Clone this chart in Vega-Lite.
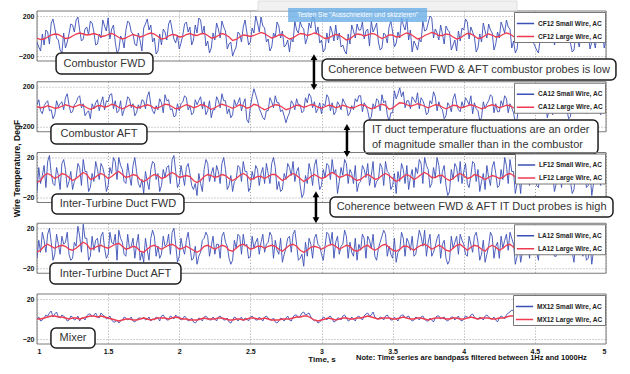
{
"$schema":"https://vega.github.io/schema/vega-lite/v6.json",
"autosize":{"type":"pad"},
"padding":{"left":11,"top":0,"right":0,"bottom":0},
"background":"white",
"datasets":{"ts":[
{"t":1,"b1":-60,"r1":-20,"b2":20,"r2":0,"b3":-14,"r3":-5,"b4":-10,"r4":-4,"b5":0,"r5":0},
{"t":1.025,"b1":-150,"r1":-35,"b2":-40,"r2":-10,"b3":-6,"r3":-3,"b4":-4,"r4":-2,"b5":-2,"r5":0},
{"t":1.05,"b1":-90,"r1":-30,"b2":10,"r2":-5,"b3":12,"r3":2,"b4":8,"r4":2,"b5":1,"r5":1},
{"t":1.075,"b1":40,"r1":-10,"b2":60,"r2":10,"b3":16,"r3":4,"b4":14,"r4":4,"b5":3,"r5":2},
{"t":1.1,"b1":130,"r1":10,"b2":-30,"r2":0,"b3":4,"r3":2,"b4":6,"r4":2,"b5":8,"r5":3},
{"t":1.125,"b1":80,"r1":20,"b2":-80,"r2":-15,"b3":-8,"r3":-1,"b4":-6,"r4":0,"b5":5,"r5":3},
{"t":1.15,"b1":-40,"r1":15,"b2":0,"r2":-10,"b3":2,"r3":1,"b4":4,"r4":2,"b5":2,"r5":2},
{"t":1.175,"b1":-170,"r1":-5,"b2":50,"r2":5,"b3":14,"r3":4,"b4":12,"r4":3,"b5":4,"r5":2},
{"t":1.2,"b1":-120,"r1":-25,"b2":90,"r2":20,"b3":8,"r3":3,"b4":6,"r4":2,"b5":1,"r5":1},
{"t":1.225,"b1":20,"r1":-20,"b2":20,"r2":10,"b3":-4,"r3":0,"b4":-6,"r4":-1,"b5":-1,"r5":0},
{"t":1.25,"b1":110,"r1":0,"b2":-50,"r2":-5,"b3":-12,"r3":-3,"b4":-10,"r4":-2,"b5":2,"r5":1},
{"t":1.275,"b1":160,"r1":20,"b2":40,"r2":5,"b3":0,"r3":-1,"b4":2,"r4":0,"b5":0,"r5":1},
{"t":1.3,"b1":60,"r1":30,"b2":110,"r2":20,"b3":10,"r3":2,"b4":12,"r4":3,"b5":-2,"r5":0},
{"t":1.325,"b1":-30,"r1":20,"b2":30,"r2":15,"b3":18,"r3":5,"b4":24,"r4":6,"b5":1,"r5":1},
{"t":1.35,"b1":90,"r1":10,"b2":-60,"r2":-10,"b3":6,"r3":3,"b4":10,"r4":4,"b5":3,"r5":2},
{"t":1.375,"b1":150,"r1":15,"b2":-120,"r2":-25,"b3":-10,"r3":-2,"b4":-8,"r4":-1,"b5":5,"r5":3},
{"t":1.4,"b1":40,"r1":25,"b2":-20,"r2":-15,"b3":-4,"r3":-1,"b4":-2,"r4":0,"b5":4,"r5":3},
{"t":1.425,"b1":-80,"r1":15,"b2":70,"r2":10,"b3":8,"r3":2,"b4":10,"r4":2,"b5":2,"r5":2},
{"t":1.45,"b1":-20,"r1":-5,"b2":40,"r2":10,"b3":14,"r3":4,"b4":12,"r4":3,"b5":6,"r5":3},
{"t":1.475,"b1":100,"r1":0,"b2":-30,"r2":-5,"b3":2,"r3":2,"b4":0,"r4":1,"b5":3,"r5":2},
{"t":1.5,"b1":180,"r1":15,"b2":50,"r2":5,"b3":-8,"r3":-1,"b4":-6,"r4":0,"b5":1,"r5":1},
{"t":1.525,"b1":70,"r1":25,"b2":130,"r2":25,"b3":4,"r3":1,"b4":6,"r4":2,"b5":-1,"r5":0},
{"t":1.55,"b1":-60,"r1":10,"b2":60,"r2":15,"b3":16,"r3":4,"b4":14,"r4":4,"b5":-3,"r5":-1},
{"t":1.575,"b1":-140,"r1":-15,"b2":-40,"r2":-5,"b3":20,"r3":6,"b4":18,"r4":5,"b5":-4,"r5":-2},
{"t":1.6,"b1":-30,"r1":-30,"b2":-90,"r2":-20,"b3":8,"r3":3,"b4":6,"r4":2,"b5":-1,"r5":-1},
{"t":1.625,"b1":60,"r1":-20,"b2":10,"r2":-5,"b3":-6,"r3":0,"b4":-8,"r4":-1,"b5":1,"r5":0},
{"t":1.65,"b1":130,"r1":0,"b2":80,"r2":15,"b3":2,"r3":1,"b4":0,"r4":0,"b5":0,"r5":0},
{"t":1.675,"b1":20,"r1":15,"b2":30,"r2":10,"b3":12,"r3":3,"b4":10,"r4":2,"b5":-2,"r5":-1},
{"t":1.7,"b1":-100,"r1":5,"b2":-60,"r2":-10,"b3":6,"r3":2,"b4":4,"r4":1,"b5":-1,"r5":-1},
{"t":1.725,"b1":-50,"r1":-10,"b2":-20,"r2":-5,"b3":-10,"r3":-2,"b4":-12,"r4":-3,"b5":1,"r5":0},
{"t":1.75,"b1":80,"r1":0,"b2":60,"r2":10,"b3":-16,"r3":-4,"b4":-14,"r4":-4,"b5":2,"r5":1},
{"t":1.775,"b1":170,"r1":20,"b2":100,"r2":20,"b3":-4,"r3":-2,"b4":-2,"r4":-1,"b5":0,"r5":0},
{"t":1.8,"b1":110,"r1":30,"b2":20,"r2":10,"b3":8,"r3":1,"b4":10,"r4":2,"b5":-2,"r5":-1},
{"t":1.825,"b1":-20,"r1":20,"b2":-70,"r2":-15,"b3":14,"r3":3,"b4":12,"r4":3,"b5":-1,"r5":0},
{"t":1.85,"b1":-150,"r1":-5,"b2":-30,"r2":-10,"b3":4,"r3":2,"b4":2,"r4":1,"b5":1,"r5":1},
{"t":1.875,"b1":-90,"r1":-30,"b2":40,"r2":5,"b3":-8,"r3":-1,"b4":-6,"r4":-1,"b5":3,"r5":1},
{"t":1.9,"b1":40,"r1":-25,"b2":120,"r2":25,"b3":0,"r3":0,"b4":2,"r4":1,"b5":1,"r5":1},
{"t":1.925,"b1":120,"r1":0,"b2":70,"r2":20,"b3":12,"r3":3,"b4":14,"r4":3,"b5":-1,"r5":0},
{"t":1.95,"b1":60,"r1":15,"b2":-20,"r2":0,"b3":18,"r3":5,"b4":16,"r4":4,"b5":2,"r5":1},
{"t":1.975,"b1":-70,"r1":10,"b2":-90,"r2":-20,"b3":6,"r3":3,"b4":4,"r4":2,"b5":4,"r5":2},
{"t":2,"b1":-130,"r1":-10,"b2":-40,"r2":-15,"b3":-6,"r3":0,"b4":-8,"r4":-1,"b5":2,"r5":1},
{"t":2.025,"b1":10,"r1":-5,"b2":50,"r2":5,"b3":2,"r3":1,"b4":0,"r4":0,"b5":0,"r5":0},
{"t":2.05,"b1":140,"r1":15,"b2":90,"r2":20,"b3":10,"r3":2,"b4":8,"r4":2,"b5":1,"r5":0},
{"t":2.075,"b1":90,"r1":25,"b2":10,"r2":10,"b3":4,"r3":1,"b4":2,"r4":0,"b5":-1,"r5":-1},
{"t":2.1,"b1":-40,"r1":10,"b2":-60,"r2":-10,"b3":-12,"r3":-3,"b4":-10,"r4":-2,"b5":-3,"r5":-1},
{"t":2.125,"b1":30,"r1":5,"b2":20,"r2":0,"b3":-18,"r3":-5,"b4":-16,"r4":-4,"b5":-2,"r5":-1},
{"t":2.15,"b1":160,"r1":20,"b2":100,"r2":20,"b3":-6,"r3":-3,"b4":-4,"r4":-2,"b5":0,"r5":0},
{"t":2.175,"b1":100,"r1":25,"b2":50,"r2":15,"b3":8,"r3":1,"b4":10,"r4":2,"b5":2,"r5":1},
{"t":2.2,"b1":-50,"r1":5,"b2":-40,"r2":-5,"b3":14,"r3":3,"b4":12,"r4":3,"b5":1,"r5":0},
{"t":2.225,"b1":-120,"r1":-20,"b2":-110,"r2":-25,"b3":4,"r3":2,"b4":2,"r4":1,"b5":-1,"r5":0},
{"t":2.25,"b1":-40,"r1":-15,"b2":-30,"r2":-10,"b3":-4,"r3":0,"b4":-6,"r4":-1,"b5":0,"r5":0},
{"t":2.275,"b1":70,"r1":5,"b2":60,"r2":10,"b3":6,"r3":1,"b4":4,"r4":1,"b5":2,"r5":1},
{"t":2.3,"b1":150,"r1":25,"b2":130,"r2":25,"b3":14,"r3":3,"b4":12,"r4":3,"b5":1,"r5":1},
{"t":2.325,"b1":50,"r1":15,"b2":60,"r2":15,"b3":8,"r3":2,"b4":6,"r4":2,"b5":-1,"r5":0},
{"t":2.35,"b1":-80,"r1":-10,"b2":-20,"r2":0,"b3":-8,"r3":-1,"b4":-10,"r4":-2,"b5":-3,"r5":-1},
{"t":2.375,"b1":-200,"r1":-45,"b2":-80,"r2":-15,"b3":-14,"r3":-3,"b4":-12,"r4":-3,"b5":-1,"r5":-1},
{"t":2.4,"b1":-110,"r1":-35,"b2":10,"r2":0,"b3":-2,"r3":-1,"b4":0,"r4":0,"b5":1,"r5":0},
{"t":2.425,"b1":20,"r1":-10,"b2":90,"r2":20,"b3":10,"r3":2,"b4":12,"r4":3,"b5":0,"r5":0},
{"t":2.45,"b1":90,"r1":10,"b2":30,"r2":10,"b3":16,"r3":4,"b4":14,"r4":4,"b5":-2,"r5":-1},
{"t":2.475,"b1":40,"r1":5,"b2":-130,"r2":-15,"b3":6,"r3":2,"b4":4,"r4":2,"b5":0,"r5":0},
{"t":2.5,"b1":-60,"r1":-5,"b2":0,"r2":-5,"b3":-10,"r3":-2,"b4":-8,"r4":-1,"b5":2,"r5":1},
{"t":2.525,"b1":30,"r1":5,"b2":180,"r2":25,"b3":-2,"r3":-1,"b4":0,"r4":0,"b5":1,"r5":1},
{"t":2.55,"b1":130,"r1":20,"b2":60,"r2":15,"b3":8,"r3":1,"b4":10,"r4":2,"b5":-1,"r5":0},
{"t":2.575,"b1":190,"r1":35,"b2":-60,"r2":-10,"b3":4,"r3":1,"b4":6,"r4":2,"b5":0,"r5":0},
{"t":2.6,"b1":80,"r1":25,"b2":-130,"r2":-30,"b3":-6,"r3":-1,"b4":-4,"r4":0,"b5":2,"r5":1},
{"t":2.625,"b1":-30,"r1":0,"b2":-40,"r2":-15,"b3":4,"r3":1,"b4":6,"r4":2,"b5":1,"r5":0},
{"t":2.65,"b1":-110,"r1":-20,"b2":50,"r2":5,"b3":14,"r3":3,"b4":12,"r4":3,"b5":-1,"r5":-1},
{"t":2.675,"b1":-10,"r1":-10,"b2":110,"r2":20,"b3":10,"r3":3,"b4":8,"r4":2,"b5":-3,"r5":-1},
{"t":2.7,"b1":100,"r1":10,"b2":40,"r2":15,"b3":-4,"r3":0,"b4":-6,"r4":-1,"b5":-2,"r5":-1},
{"t":2.725,"b1":50,"r1":15,"b2":-30,"r2":-5,"b3":-12,"r3":-3,"b4":-14,"r4":-3,"b5":0,"r5":0},
{"t":2.75,"b1":-90,"r1":-10,"b2":-160,"r2":-30,"b3":-2,"r3":-1,"b4":0,"r4":0,"b5":1,"r5":0},
{"t":2.775,"b1":-160,"r1":-30,"b2":-60,"r2":-20,"b3":10,"r3":2,"b4":12,"r4":3,"b5":-1,"r5":0},
{"t":2.8,"b1":-60,"r1":-20,"b2":30,"r2":0,"b3":16,"r3":4,"b4":14,"r4":4,"b5":2,"r5":1},
{"t":2.825,"b1":60,"r1":5,"b2":80,"r2":15,"b3":6,"r3":2,"b4":4,"r4":2,"b5":4,"r5":2},
{"t":2.85,"b1":140,"r1":25,"b2":20,"r2":10,"b3":-8,"r3":-1,"b4":-10,"r4":-2,"b5":3,"r5":2},
{"t":2.875,"b1":70,"r1":20,"b2":-40,"r2":-5,"b3":-16,"r3":-4,"b4":-18,"r4":-4,"b5":7,"r5":3},
{"t":2.9,"b1":-20,"r1":5,"b2":40,"r2":5,"b3":-6,"r3":-2,"b4":-8,"r4":-2,"b5":5,"r5":3},
{"t":2.925,"b1":80,"r1":15,"b2":100,"r2":20,"b3":6,"r3":1,"b4":4,"r4":1,"b5":2,"r5":1},
{"t":2.95,"b1":170,"r1":30,"b2":50,"r2":15,"b3":12,"r3":3,"b4":10,"r4":2,"b5":-2,"r5":-1},
{"t":2.975,"b1":90,"r1":20,"b2":-20,"r2":-5,"b3":2,"r3":1,"b4":4,"r4":1,"b5":-4,"r5":-2},
{"t":3,"b1":-40,"r1":-5,"b2":-70,"r2":-15,"b3":-8,"r3":-1,"b4":-6,"r4":-1,"b5":-1,"r5":-1},
{"t":3.025,"b1":-130,"r1":-25,"b2":10,"r2":0,"b3":0,"r3":0,"b4":2,"r4":1,"b5":1,"r5":0},
{"t":3.05,"b1":-70,"r1":-20,"b2":90,"r2":15,"b3":12,"r3":3,"b4":14,"r4":3,"b5":2,"r5":1},
{"t":3.075,"b1":40,"r1":0,"b2":40,"r2":10,"b3":18,"r3":5,"b4":16,"r4":4,"b5":0,"r5":0},
{"t":3.1,"b1":110,"r1":15,"b2":-50,"r2":-10,"b3":8,"r3":3,"b4":6,"r4":2,"b5":-2,"r5":-1},
{"t":3.125,"b1":30,"r1":10,"b2":20,"r2":0,"b3":-4,"r3":0,"b4":-6,"r4":-1,"b5":1,"r5":0},
{"t":3.15,"b1":-90,"r1":-15,"b2":80,"r2":15,"b3":2,"r3":1,"b4":4,"r4":1,"b5":3,"r5":1},
{"t":3.175,"b1":-180,"r1":-40,"b2":10,"r2":5,"b3":14,"r3":3,"b4":12,"r4":3,"b5":1,"r5":1},
{"t":3.2,"b1":-80,"r1":-30,"b2":-60,"r2":-10,"b3":8,"r3":2,"b4":6,"r4":2,"b5":-1,"r5":0},
{"t":3.225,"b1":50,"r1":0,"b2":-30,"r2":-10,"b3":-6,"r3":-1,"b4":-8,"r4":-2,"b5":0,"r5":0},
{"t":3.25,"b1":120,"r1":20,"b2":50,"r2":5,"b3":-14,"r3":-3,"b4":-12,"r4":-3,"b5":2,"r5":1},
{"t":3.275,"b1":60,"r1":15,"b2":110,"r2":20,"b3":-4,"r3":-2,"b4":-2,"r4":-1,"b5":1,"r5":1},
{"t":3.3,"b1":-30,"r1":0,"b2":40,"r2":15,"b3":8,"r3":1,"b4":10,"r4":2,"b5":3,"r5":2},
{"t":3.325,"b1":70,"r1":10,"b2":-40,"r2":-5,"b3":14,"r3":3,"b4":12,"r4":3,"b5":6,"r5":3},
{"t":3.35,"b1":150,"r1":25,"b2":-100,"r2":-20,"b3":2,"r3":1,"b4":0,"r4":0,"b5":4,"r5":2},
{"t":3.375,"b1":80,"r1":20,"b2":-20,"r2":-10,"b3":-10,"r3":-2,"b4":-8,"r4":-2,"b5":2,"r5":1},
{"t":3.4,"b1":-60,"r1":-5,"b2":60,"r2":10,"b3":-2,"r3":-1,"b4":0,"r4":0,"b5":0,"r5":0},
{"t":3.425,"b1":-120,"r1":-25,"b2":120,"r2":25,"b3":10,"r3":2,"b4":12,"r4":3,"b5":1,"r5":1},
{"t":3.45,"b1":10,"r1":-10,"b2":60,"r2":15,"b3":16,"r3":4,"b4":14,"r4":4,"b5":3,"r5":1},
{"t":3.475,"b1":90,"r1":10,"b2":-150,"r2":-25,"b3":4,"r3":2,"b4":2,"r4":1,"b5":1,"r5":1},
{"t":3.5,"b1":40,"r1":10,"b2":-60,"r2":-15,"b3":-8,"r3":-1,"b4":-10,"r4":-2,"b5":-1,"r5":0},
{"t":3.525,"b1":-70,"r1":-10,"b2":80,"r2":15,"b3":-16,"r3":-4,"b4":-14,"r4":-3,"b5":0,"r5":0},
{"t":3.55,"b1":-20,"r1":-5,"b2":190,"r2":40,"b3":-4,"r3":-2,"b4":-2,"r4":-1,"b5":2,"r5":1},
{"t":3.575,"b1":110,"r1":15,"b2":150,"r2":35,"b3":8,"r3":1,"b4":10,"r4":2,"b5":4,"r5":2},
{"t":3.6,"b1":170,"r1":30,"b2":60,"r2":20,"b3":12,"r3":3,"b4":10,"r4":2,"b5":2,"r5":1},
{"t":3.625,"b1":60,"r1":20,"b2":-20,"r2":5,"b3":0,"r3":1,"b4":-2,"r4":0,"b5":0,"r5":0},
{"t":3.65,"b1":-50,"r1":-5,"b2":70,"r2":15,"b3":-10,"r3":-2,"b4":-8,"r4":-2,"b5":-1,"r5":0},
{"t":3.675,"b1":-140,"r1":-30,"b2":140,"r2":30,"b3":4,"r3":0,"b4":6,"r4":1,"b5":1,"r5":1},
{"t":3.7,"b1":-60,"r1":-20,"b2":90,"r2":20,"b3":14,"r3":3,"b4":12,"r4":3,"b5":2,"r5":1},
{"t":3.725,"b1":50,"r1":5,"b2":10,"r2":5,"b3":20,"r3":5,"b4":18,"r4":4,"b5":0,"r5":0},
{"t":3.75,"b1":130,"r1":20,"b2":-60,"r2":-10,"b3":8,"r3":3,"b4":6,"r4":2,"b5":-2,"r5":-1},
{"t":3.775,"b1":180,"r1":35,"b2":30,"r2":5,"b3":-6,"r3":0,"b4":-8,"r4":-1,"b5":-1,"r5":0},
{"t":3.8,"b1":70,"r1":25,"b2":100,"r2":20,"b3":0,"r3":0,"b4":2,"r4":1,"b5":1,"r5":1},
{"t":3.825,"b1":-40,"r1":5,"b2":50,"r2":15,"b3":12,"r3":2,"b4":14,"r4":3,"b5":3,"r5":1},
{"t":3.85,"b1":20,"r1":5,"b2":-30,"r2":-5,"b3":6,"r3":2,"b4":4,"r4":1,"b5":1,"r5":1},
{"t":3.875,"b1":100,"r1":20,"b2":-90,"r2":-20,"b3":-8,"r3":-1,"b4":-10,"r4":-2,"b5":-1,"r5":0},
{"t":3.9,"b1":40,"r1":15,"b2":10,"r2":-5,"b3":-14,"r3":-3,"b4":-12,"r4":-3,"b5":0,"r5":0},
{"t":3.925,"b1":-90,"r1":-10,"b2":80,"r2":15,"b3":-2,"r3":-1,"b4":0,"r4":0,"b5":2,"r5":1},
{"t":3.95,"b1":-150,"r1":-30,"b2":30,"r2":10,"b3":10,"r3":2,"b4":12,"r4":3,"b5":1,"r5":1},
{"t":3.975,"b1":-50,"r1":-20,"b2":-50,"r2":-10,"b3":16,"r3":4,"b4":14,"r4":4,"b5":-1,"r5":0},
{"t":4,"b1":60,"r1":5,"b2":-10,"r2":-5,"b3":6,"r3":2,"b4":4,"r4":1,"b5":0,"r5":0},
{"t":4.025,"b1":140,"r1":25,"b2":60,"r2":10,"b3":-6,"r3":-1,"b4":-8,"r4":-2,"b5":2,"r5":1},
{"t":4.05,"b1":90,"r1":20,"b2":110,"r2":20,"b3":2,"r3":0,"b4":4,"r4":1,"b5":4,"r5":2},
{"t":4.075,"b1":-10,"r1":0,"b2":40,"r2":10,"b3":14,"r3":3,"b4":12,"r4":3,"b5":2,"r5":1},
{"t":4.1,"b1":-120,"r1":-25,"b2":-40,"r2":-5,"b3":8,"r3":2,"b4":6,"r4":2,"b5":0,"r5":0},
{"t":4.125,"b1":-60,"r1":-20,"b2":-110,"r2":-20,"b3":-4,"r3":0,"b4":-6,"r4":-1,"b5":1,"r5":1},
{"t":4.15,"b1":50,"r1":5,"b2":-20,"r2":-10,"b3":-12,"r3":-2,"b4":-14,"r4":-3,"b5":3,"r5":1},
{"t":4.175,"b1":120,"r1":20,"b2":60,"r2":10,"b3":0,"r3":0,"b4":2,"r4":1,"b5":2,"r5":1},
{"t":4.2,"b1":30,"r1":10,"b2":100,"r2":20,"b3":10,"r3":2,"b4":12,"r4":3,"b5":0,"r5":0},
{"t":4.225,"b1":-80,"r1":-10,"b2":30,"r2":10,"b3":4,"r3":1,"b4":2,"r4":1,"b5":-1,"r5":0},
{"t":4.25,"b1":-20,"r1":-5,"b2":-50,"r2":-10,"b3":-8,"r3":-1,"b4":-10,"r4":-2,"b5":1,"r5":1},
{"t":4.275,"b1":90,"r1":15,"b2":10,"r2":0,"b3":-2,"r3":0,"b4":0,"r4":0,"b5":2,"r5":1},
{"t":4.3,"b1":160,"r1":30,"b2":80,"r2":15,"b3":12,"r3":3,"b4":14,"r4":3,"b5":4,"r5":2},
{"t":4.325,"b1":70,"r1":20,"b2":30,"r2":10,"b3":18,"r3":4,"b4":16,"r4":4,"b5":7,"r5":3},
{"t":4.35,"b1":-50,"r1":-5,"b2":-60,"r2":-10,"b3":6,"r3":2,"b4":4,"r4":1,"b5":8,"r5":3},
{"t":4.375,"b1":-130,"r1":-30,"b2":-120,"r2":-25,"b3":-6,"r3":-1,"b4":-8,"r4":-2,"b5":4,"r5":2},
{"t":4.4,"b1":-40,"r1":-20,"b2":-30,"r2":-10,"b3":-16,"r3":-4,"b4":-14,"r4":-3,"b5":1,"r5":1},
{"t":4.425,"b1":60,"r1":5,"b2":50,"r2":10,"b3":-4,"r3":-2,"b4":-2,"r4":-1,"b5":-1,"r5":0},
{"t":4.45,"b1":110,"r1":20,"b2":90,"r2":20,"b3":8,"r3":1,"b4":10,"r4":2,"b5":-3,"r5":-1},
{"t":4.475,"b1":20,"r1":10,"b2":20,"r2":10,"b3":12,"r3":3,"b4":10,"r4":3,"b5":-5,"r5":-2},
{"t":4.5,"b1":-100,"r1":-15,"b2":-40,"r2":-5,"b3":2,"r3":1,"b4":0,"r4":0,"b5":-6,"r5":-2},
{"t":4.525,"b1":-170,"r1":-35,"b2":30,"r2":5,"b3":-10,"r3":-2,"b4":-12,"r4":-3,"b5":-3,"r5":-1},
{"t":4.55,"b1":-60,"r1":-25,"b2":100,"r2":20,"b3":-2,"r3":-1,"b4":0,"r4":0,"b5":-2,"r5":-1},
{"t":4.575,"b1":40,"r1":0,"b2":50,"r2":15,"b3":10,"r3":2,"b4":12,"r4":3,"b5":-1,"r5":0},
{"t":4.6,"b1":120,"r1":20,"b2":-30,"r2":-5,"b3":14,"r3":3,"b4":12,"r4":3,"b5":1,"r5":0},
{"t":4.625,"b1":80,"r1":20,"b2":-80,"r2":-15,"b3":4,"r3":1,"b4":2,"r4":1,"b5":2,"r5":1},
{"t":4.65,"b1":-30,"r1":5,"b2":0,"r2":0,"b3":-6,"r3":-1,"b4":-8,"r4":-2,"b5":0,"r5":0},
{"t":4.675,"b1":50,"r1":10,"b2":70,"r2":15,"b3":4,"r3":1,"b4":6,"r4":1,"b5":-2,"r5":-1},
{"t":4.7,"b1":140,"r1":25,"b2":40,"r2":10,"b3":16,"r3":4,"b4":14,"r4":3,"b5":-1,"r5":0},
{"t":4.725,"b1":60,"r1":15,"b2":-30,"r2":-5,"b3":8,"r3":3,"b4":6,"r4":2,"b5":1,"r5":0},
{"t":4.75,"b1":-70,"r1":-10,"b2":-100,"r2":-20,"b3":-4,"r3":0,"b4":-6,"r4":-1,"b5":2,"r5":1},
{"t":4.775,"b1":-140,"r1":-30,"b2":-20,"r2":-10,"b3":-12,"r3":-2,"b4":-14,"r4":-3,"b5":0,"r5":0},
{"t":4.8,"b1":-50,"r1":-20,"b2":60,"r2":10,"b3":0,"r3":0,"b4":2,"r4":0,"b5":-2,"r5":-1},
{"t":4.825,"b1":30,"r1":0,"b2":90,"r2":20,"b3":12,"r3":3,"b4":14,"r4":3,"b5":-3,"r5":-1},
{"t":4.85,"b1":100,"r1":15,"b2":20,"r2":10,"b3":6,"r3":2,"b4":4,"r4":1,"b5":-1,"r5":0},
{"t":4.875,"b1":40,"r1":10,"b2":-50,"r2":-10,"b3":-8,"r3":-1,"b4":-10,"r4":-2,"b5":1,"r5":0},
{"t":4.9,"b1":-60,"r1":-10,"b2":10,"r2":0,"b3":-18,"r3":-4,"b4":-16,"r4":-4,"b5":0,"r5":0},
{"t":4.925,"b1":-120,"r1":-25,"b2":70,"r2":15,"b3":-6,"r3":-2,"b4":-4,"r4":-1,"b5":-2,"r5":-1},
{"t":4.95,"b1":-20,"r1":-15,"b2":30,"r2":10,"b3":8,"r3":1,"b4":10,"r4":2,"b5":-1,"r5":0},
{"t":4.975,"b1":60,"r1":5,"b2":-40,"r2":-5,"b3":12,"r3":3,"b4":10,"r4":2,"b5":1,"r5":0},
{"t":5,"b1":-40,"r1":-5,"b2":10,"r2":0,"b3":2,"r3":1,"b4":0,"r4":0,"b5":0,"r5":0},
{"t":1.0125,"b1":-110,"b2":70,"b3":10,"b4":8,"b5":2},
{"t":1.0375,"b1":20,"b2":-70,"b3":2,"b4":16,"b5":-1},
{"t":1.0625,"b1":60,"b2":40,"b3":-10,"b4":-4,"b5":4},
{"t":1.0875,"b1":-80,"b2":-40,"b3":22,"b4":20,"b5":6},
{"t":1.1125,"b1":170,"b2":-120,"b3":-6,"b4":-12,"b5":2},
{"t":1.1375,"b1":-20,"b2":60,"b3":10,"b4":14,"b5":7},
{"t":1.1625,"b1":-140,"b2":30,"b3":-12,"b4":-6,"b5":1},
{"t":1.1875,"b1":30,"b2":-30,"b3":18,"b4":4,"b5":3},
{"t":1.2125,"b1":-60,"b2":130,"b3":-10,"b4":16,"b5":-2},
{"t":1.2375,"b1":120,"b2":-60,"b3":6,"b4":-12,"b5":3},
{"t":1.2625,"b1":40,"b2":20,"b3":-4,"b4":6,"b5":-1},
{"t":1.2875,"b1":190,"b2":90,"b3":14,"b4":22,"b5":3},
{"t":1.3125,"b1":-50,"b2":-10,"b3":-8,"b4":-4,"b5":1},
{"t":1.3375,"b1":70,"b2":-90,"b3":6,"b4":10,"b5":-1},
{"t":1.3625,"b1":10,"b2":-40,"b3":-14,"b4":-12,"b5":5},
{"t":1.3875,"b1":130,"b2":30,"b3":4,"b4":12,"b5":2},
{"t":1.4125,"b1":-90,"b2":40,"b3":16,"b4":8,"b5":6},
{"t":1.4375,"b1":20,"b2":-40,"b3":-2,"b4":-4,"b5":1},
{"t":1.4625,"b1":160,"b2":100,"b3":10,"b4":16,"b5":4},
{"t":1.4875,"b1":50,"b2":60,"b3":-14,"b4":-10,"b5":0},
{"t":1.5125,"b1":-30,"b2":120,"b3":10,"b4":16,"b5":3},
{"t":1.5375,"b1":110,"b2":-20,"b3":20,"b4":4,"b5":-3},
{"t":1.5625,"b1":-170,"b2":-60,"b3":-2,"b4":-12,"b5":-1},
{"t":1.5875,"b1":0,"b2":60,"b3":12,"b4":10,"b5":-2},
{"t":1.6125,"b1":-120,"b2":-30,"b3":-4,"b4":-6,"b5":2},
{"t":1.6375,"b1":150,"b2":100,"b3":14,"b4":14,"b5":-1},
{"t":1.6625,"b1":40,"b2":-10,"b3":-8,"b4":2,"b5":2},
{"t":1.6875,"b1":-80,"b2":-90,"b3":20,"b4":-10,"b5":-3},
{"t":1.7125,"b1":30,"b2":20,"b3":-6,"b4":14,"b5":1},
{"t":1.7375,"b1":-150,"b2":70,"b3":-2,"b4":-4,"b5":0},
{"t":1.7625,"b1":120,"b2":-20,"b3":6,"b4":10,"b5":-1},
{"t":1.7875,"b1":60,"b2":150,"b3":-12,"b4":-12,"b5":2},
{"t":1.8125,"b1":-60,"b2":-40,"b3":16,"b4":18,"b5":0},
{"t":1.8375,"b1":-180,"b2":10,"b3":-2,"b4":-8,"b5":2},
{"t":1.8625,"b1":20,"b2":80,"b3":-14,"b4":-10,"b5":-2},
{"t":1.8875,"b1":70,"b2":-60,"b3":8,"b4":12,"b5":4},
{"t":1.9125,"b1":-40,"b2":60,"b3":10,"b4":4,"b5":-1},
{"t":1.9375,"b1":160,"b2":-30,"b3":-6,"b4":-6,"b5":3},
{"t":1.9625,"b1":-30,"b2":-100,"b3":22,"b4":20,"b5":0},
{"t":1.9875,"b1":10,"b2":30,"b3":-10,"b4":-14,"b5":2},
{"t":2.0125,"b1":-70,"b2":30,"b3":12,"b4":10,"b5":-1},
{"t":2.0375,"b1":120,"b2":110,"b3":-8,"b4":-6,"b5":3},
{"t":2.0625,"b1":40,"b2":-30,"b3":14,"b4":16,"b5":-2},
{"t":2.0875,"b1":-90,"b2":-80,"b3":-8,"b4":-12,"b5":1},
{"t":2.1125,"b1":110,"b2":70,"b3":-6,"b4":2,"b5":-4},
{"t":2.1375,"b1":180,"b2":60,"b3":4,"b4":-8,"b5":1},
{"t":2.1625,"b1":20,"b2":-20,"b3":-14,"b4":8,"b5":-2},
{"t":2.1875,"b1":-100,"b2":-80,"b3":18,"b4":16,"b5":3},
{"t":2.2125,"b1":-170,"b2":60,"b3":-4,"b4":-8,"b5":-1},
{"t":2.2375,"b1":30,"b2":-30,"b3":10,"b4":12,"b5":2},
{"t":2.2625,"b1":130,"b2":100,"b3":12,"b4":4,"b5":-2},
{"t":2.2875,"b1":-20,"b2":-10,"b3":-6,"b4":-10,"b5":3},
{"t":2.3125,"b1":90,"b2":60,"b3":20,"b4":16,"b5":-1},
{"t":2.3375,"b1":-130,"b2":-70,"b3":-12,"b4":2,"b5":1},
{"t":2.3625,"b1":-60,"b2":-110,"b3":2,"b4":-16,"b5":-4},
{"t":2.3875,"b1":-150,"b2":70,"b3":-4,"b4":8,"b5":2},
{"t":2.4125,"b1":40,"b2":40,"b3":12,"b4":14,"b5":-2},
{"t":2.4375,"b1":-60,"b2":-40,"b3":-4,"b4":-6,"b5":2},
{"t":2.4625,"b1":160,"b2":80,"b3":6,"b4":2,"b5":1},
{"t":2.4875,"b1":-90,"b2":-160,"b3":-14,"b4":-10,"b5":-2},
{"t":2.5125,"b1":80,"b2":100,"b3":6,"b4":12,"b5":3},
{"t":2.5375,"b1":200,"b2":120,"b3":12,"b4":6,"b5":-1},
{"t":2.5625,"b1":40,"b2":-20,"b3":-8,"b4":-6,"b5":2},
{"t":2.5875,"b1":100,"b2":-110,"b3":10,"b4":14,"b5":-2},
{"t":2.6125,"b1":-60,"b2":-40,"b3":14,"b4":4,"b5":3},
{"t":2.6375,"b1":-150,"b2":90,"b3":-6,"b4":16,"b5":-1},
{"t":2.6625,"b1":30,"b2":-10,"b3":20,"b4":-10,"b5":1},
{"t":2.6875,"b1":140,"b2":40,"b3":-12,"b4":-2,"b5":-4},
{"t":2.7125,"b1":-20,"b2":-50,"b3":-14,"b4":10,"b5":1},
{"t":2.7375,"b1":-110,"b2":-90,"b3":4,"b4":-6,"b5":-2},
{"t":2.7625,"b1":-40,"b2":-100,"b3":14,"b4":10,"b5":3},
{"t":2.7875,"b1":-20,"b2":60,"b3":2,"b4":-4,"b5":-2},
{"t":2.8125,"b1":150,"b2":-30,"b3":-4,"b4":18,"b5":4},
{"t":2.8375,"b1":30,"b2":20,"b3":10,"b4":-12,"b5":1},
{"t":2.8625,"b1":90,"b2":-60,"b3":-20,"b4":-6,"b5":6},
{"t":2.8875,"b1":-80,"b2":90,"b3":2,"b4":6,"b5":4},
{"t":2.9125,"b1":130,"b2":130,"b3":14,"b4":10,"b5":6},
{"t":2.9375,"b1":200,"b2":-10,"b3":-8,"b4":-10,"b5":0},
{"t":2.9625,"b1":20,"b2":-60,"b3":18,"b4":14,"b5":-1},
{"t":2.9875,"b1":-70,"b2":40,"b3":-12,"b4":2,"b5":-3},
{"t":3.0125,"b1":-160,"b2":30,"b3":8,"b4":-12,"b5":2},
{"t":3.0375,"b1":30,"b2":120,"b3":14,"b4":16,"b5":-1},
{"t":3.0625,"b1":100,"b2":-40,"b3":-2,"b4":4,"b5":3},
{"t":3.0875,"b1":-50,"b2":-80,"b3":4,"b4":-10,"b5":-3},
{"t":3.1125,"b1":-40,"b2":50,"b3":-16,"b4":12,"b5":1},
{"t":3.1375,"b1":-110,"b2":-30,"b3":10,"b4":2,"b5":-1},
{"t":3.1625,"b1":-150,"b2":40,"b3":18,"b4":18,"b5":4},
{"t":3.1875,"b1":20,"b2":-90,"b3":-6,"b4":-10,"b5":-2},
{"t":3.2125,"b1":110,"b2":10,"b3":4,"b4":-4,"b5":2},
{"t":3.2375,"b1":-20,"b2":80,"b3":12,"b4":10,"b5":-2},
{"t":3.2625,"b1":60,"b2":110,"b3":-6,"b4":4,"b5":3},
{"t":3.2875,"b1":140,"b2":-50,"b3":12,"b4":14,"b5":-1},
{"t":3.3125,"b1":50,"b2":10,"b3":0,"b4":-10,"b5":5},
{"t":3.3375,"b1":-100,"b2":-130,"b3":-8,"b4":8,"b5":3},
{"t":3.3625,"b1":40,"b2":30,"b3":16,"b4":14,"b5":7},
{"t":3.3875,"b1":130,"b2":80,"b3":-4,"b4":-12,"b5":0},
{"t":3.4125,"b1":-140,"b2":-40,"b3":14,"b4":6,"b5":2},
{"t":3.4375,"b1":30,"b2":40,"b3":-8,"b4":18,"b5":-1},
{"t":3.4625,"b1":-70,"b2":-80,"b3":6,"b4":-8,"b5":4},
{"t":3.4875,"b1":150,"b2":-60,"b3":-12,"b4":-6,"b5":-1},
{"t":3.5125,"b1":-110,"b2":160,"b3":4,"b4":10,"b5":2},
{"t":3.5375,"b1":40,"b2":130,"b3":6,"b4":-4,"b5":-2},
{"t":3.5625,"b1":180,"b2":100,"b3":14,"b4":16,"b5":4},
{"t":3.5875,"b1":60,"b2":-10,"b3":-6,"b4":-8,"b5":1},
{"t":3.6125,"b1":-40,"b2":60,"b3":-12,"b4":6,"b5":3},
{"t":3.6375,"b1":-160,"b2":100,"b3":8,"b4":12,"b5":-2},
{"t":3.6625,"b1":-90,"b2":40,"b3":10,"b4":-6,"b5":2},
{"t":3.6875,"b1":-30,"b2":-20,"b3":18,"b4":18,"b5":-1},
{"t":3.7125,"b1":150,"b2":60,"b3":-6,"b4":2,"b5":3},
{"t":3.7375,"b1":60,"b2":-80,"b3":12,"b4":-8,"b5":-2},
{"t":3.7625,"b1":200,"b2":60,"b3":-10,"b4":14,"b5":1},
{"t":3.7875,"b1":-20,"b2":150,"b3":10,"b4":-4,"b5":-3},
{"t":3.8125,"b1":30,"b2":-40,"b3":20,"b4":10,"b5":3},
{"t":3.8375,"b1":110,"b2":-10,"b3":-6,"b4":-10,"b5":0},
{"t":3.8625,"b1":-80,"b2":-120,"b3":12,"b4":8,"b5":2},
{"t":3.8875,"b1":60,"b2":40,"b3":-18,"b4":-16,"b5":-2},
{"t":3.9125,"b1":-140,"b2":-50,"b3":8,"b4":12,"b5":2},
{"t":3.9375,"b1":-40,"b2":130,"b3":14,"b4":6,"b5":-1},
{"t":3.9625,"b1":50,"b2":-30,"b3":-4,"b4":-6,"b5":3},
{"t":3.9875,"b1":80,"b2":50,"b3":-6,"b4":8,"b5":-2},
{"t":4.0125,"b1":170,"b2":90,"b3":14,"b4":-6,"b5":3},
{"t":4.0375,"b1":-30,"b2":20,"b3":-10,"b4":12,"b5":1},
{"t":4.0625,"b1":40,"b2":-70,"b3":16,"b4":-4,"b5":5},
{"t":4.0875,"b1":-160,"b2":-20,"b3":-4,"b4":16,"b5":0},
{"t":4.1125,"b1":20,"b2":-140,"b3":-14,"b4":-12,"b5":2},
{"t":4.1375,"b1":130,"b2":50,"b3":4,"b4":8,"b5":-1},
{"t":4.1625,"b1":-20,"b2":30,"b3":12,"b4":-6,"b5":4},
{"t":4.1875,"b1":60,"b2":120,"b3":-8,"b4":16,"b5":0},
{"t":4.2125,"b1":-140,"b2":-60,"b3":16,"b4":-10,"b5":2},
{"t":4.2375,"b1":40,"b2":-50,"b3":-10,"b4":6,"b5":-3},
{"t":4.2625,"b1":140,"b2":60,"b3":8,"b4":12,"b5":3},
{"t":4.2875,"b1":30,"b2":110,"b3":20,"b4":8,"b5":0},
{"t":4.3125,"b1":90,"b2":-60,"b3":-6,"b4":-2,"b5":6},
{"t":4.3375,"b1":-120,"b2":-10,"b3":6,"b4":10,"b5":9},
{"t":4.3625,"b1":-170,"b2":-160,"b3":-16,"b4":-16,"b5":6},
{"t":4.3875,"b1":40,"b2":30,"b3":2,"b4":6,"b5":3},
{"t":4.4125,"b1":100,"b2":90,"b3":10,"b4":-4,"b5":-1},
{"t":4.4375,"b1":-40,"b2":-20,"b3":14,"b4":16,"b5":-4},
{"t":4.4625,"b1":170,"b2":60,"b3":-8,"b4":-10,"b5":-7},
{"t":4.4875,"b1":-60,"b2":-40,"b3":4,"b4":10,"b5":-2},
{"t":4.5125,"b1":-140,"b2":120,"b3":-8,"b4":-4,"b5":-4},
{"t":4.5375,"b1":-30,"b2":40,"b3":6,"b4":12,"b5":2},
{"t":4.5625,"b1":110,"b2":-40,"b3":16,"b4":6,"b5":-3},
{"t":4.5875,"b1":-50,"b2":-110,"b3":-4,"b4":-6,"b5":1},
{"t":4.6125,"b1":170,"b2":40,"b3":20,"b4":18,"b5":-1},
{"t":4.6375,"b1":-90,"b2":50,"b3":-14,"b4":-8,"b5":3},
{"t":4.6625,"b1":120,"b2":100,"b3":10,"b4":12,"b5":-2},
{"t":4.6875,"b1":90,"b2":-30,"b3":-10,"b4":2,"b5":1},
{"t":4.7125,"b1":-20,"b2":10,"b3":2,"b4":-6,"b5":-3},
{"t":4.7375,"b1":150,"b2":-120,"b3":14,"b4":16,"b5":2},
{"t":4.7625,"b1":-160,"b2":60,"b3":-16,"b4":-4,"b5":-1},
{"t":4.7875,"b1":20,"b2":20,"b3":8,"b4":8,"b5":2},
{"t":4.8125,"b1":-110,"b2":140,"b3":18,"b4":14,"b5":-4},
{"t":4.8375,"b1":140,"b2":-40,"b3":-4,"b4":-8,"b5":0},
{"t":4.8625,"b1":10,"b2":-70,"b3":-10,"b4":-12,"b5":-2},
{"t":4.8875,"b1":-130,"b2":70,"b3":6,"b4":4,"b5":2},
{"t":4.9125,"b1":-40,"b2":-30,"b3":-6,"b4":-2,"b5":-3},
{"t":4.9375,"b1":30,"b2":110,"b3":10,"b4":14,"b5":1},
{"t":4.9625,"b1":110,"b2":-80,"b3":-8,"b4":-6,"b5":-2},
{"t":4.9875,"b1":-120,"b2":50,"b3":16,"b4":12,"b5":2}
]},
"spacing":20.75,
"bounds":"flush",
"resolve":{"scale":{"color":"independent","x":"independent","y":"independent"}},
"vconcat":[
{"width":569,"height":50,"layer":[
 {"data":{"values":[{}]},"mark":{"type":"rect","fill":"transparent","stroke":"#7a7a7a","strokeWidth":1},
  "encoding":{"x":{"datum":1,"type":"quantitative","scale":{"domain":[1,5],"nice":false,"zero":false},"axis":{"values":[1,1.5,2,2.5,3,3.5,4,4.5,5],"labels":false,"title":null}},
   "x2":{"datum":5},
   "y":{"datum":-250,"type":"quantitative","scale":{"domain":[-250,250],"nice":false,"zero":false},"axis":{"values":[-200,0,200],"title":null}},
   "y2":{"datum":250}}},
 {"data":{"name":"ts"},"mark":{"type":"line","strokeWidth":0.9,"clip":true},
  "encoding":{"x":{"field":"t","type":"quantitative"},"y":{"field":"b1","type":"quantitative"},
   "color":{"datum":"CF12 Small Wire, AC","type":"nominal","title":null,"scale":{"domain":["CF12 Small Wire, AC","CF12 Large Wire, AC"],"range":["#3b4fb5","#ef3b4f"]}}}},
 {"data":{"name":"ts"},"transform":[{"filter":"isValid(datum.r1)"}],"mark":{"type":"line","strokeWidth":1.3,"clip":true},
  "encoding":{"x":{"field":"t","type":"quantitative"},"y":{"field":"r1","type":"quantitative"},"color":{"datum":"CF12 Large Wire, AC","type":"nominal","title":null}}},
 {"data":{"values":[{}]},"mark":{"type":"rect","fill":"#f1f1f1","stroke":"#dddddd","strokeWidth":1},
  "encoding":{"x":{"datum":2.554},"x2":{"datum":4.374},"y":{"datum":350},"y2":{"datum":255}}},
 {"data":{"values":[{}]},"mark":{"type":"rect","fill":"#6aaee6","opacity":0.8},
  "encoding":{"x":{"datum":2.765},"x2":{"datum":3.742},"y":{"datum":280},"y2":{"datum":140}}},
 {"data":{"values":[{}]},"mark":{"type":"text","text":"Testen Sie \"Ausschneiden und skizzieren\"","fontSize":6.5,"color":"white","align":"center","baseline":"middle"},
  "encoding":{"x":{"datum":3.254},"y":{"datum":210}}},
 {"data":{"values":[{}]},"mark":{"type":"rect","fill":"white","stroke":"#1e1e1e","strokeWidth":1.5,"cornerRadius":5},
  "encoding":{"x":{"datum":1.134},"x2":{"datum":1.815},"y":{"datum":-170},"y2":{"datum":-380}}},
 {"data":{"values":[{}]},"mark":{"type":"text","text":"Combustor FWD","fontSize":11,"color":"#333","align":"center","baseline":"middle"},
  "encoding":{"x":{"datum":1.474},"y":{"datum":-275}}},
 {"data":{"values":[{}]},"mark":{"type":"rect","fill":"white","stroke":"#1e1e1e","strokeWidth":1.5,"cornerRadius":5},
  "encoding":{"x":{"datum":3.004},"x2":{"datum":5.07},"y":{"datum":-230},"y2":{"datum":-440}}},
 {"data":{"values":[{}]},"mark":{"type":"text","text":"Coherence between FWD & AFT combustor probes is low","fontSize":11,"color":"#333","align":"center","baseline":"middle"},
  "encoding":{"x":{"datum":4.037},"y":{"datum":-335}}}
]},
{"width":569,"height":50,"layer":[
 {"data":{"values":[{}]},"mark":{"type":"rect","fill":"transparent","stroke":"#7a7a7a","strokeWidth":1},
  "encoding":{"x":{"datum":1,"type":"quantitative","scale":{"domain":[1,5],"nice":false,"zero":false},"axis":{"values":[1,1.5,2,2.5,3,3.5,4,4.5,5],"labels":false,"title":null}},
   "x2":{"datum":5},
   "y":{"datum":-250,"type":"quantitative","scale":{"domain":[-250,250],"nice":false,"zero":false},"axis":{"values":[-200,0,200],"title":null}},
   "y2":{"datum":250}}},
 {"data":{"name":"ts"},"mark":{"type":"line","strokeWidth":0.9,"clip":true},
  "encoding":{"x":{"field":"t","type":"quantitative"},"y":{"field":"b2","type":"quantitative"},
   "color":{"datum":"CA12 Small Wire, AC","type":"nominal","title":null,"scale":{"domain":["CA12 Small Wire, AC","CA12 Large Wire, AC"],"range":["#3b4fb5","#ef3b4f"]}}}},
 {"data":{"name":"ts"},"transform":[{"filter":"isValid(datum.r2)"}],"mark":{"type":"line","strokeWidth":1.3,"clip":true},
  "encoding":{"x":{"field":"t","type":"quantitative"},"y":{"field":"r2","type":"quantitative"},"color":{"datum":"CA12 Large Wire, AC","type":"nominal","title":null}}},
 {"data":{"values":[{}]},"mark":{"type":"rect","fill":"white","stroke":"#1e1e1e","strokeWidth":1.5,"cornerRadius":5},
  "encoding":{"x":{"datum":1.098},"x2":{"datum":1.773},"y":{"datum":-172},"y2":{"datum":-372}}},
 {"data":{"values":[{}]},"mark":{"type":"text","text":"Combustor AFT","fontSize":11,"color":"#333","align":"center","baseline":"middle"},
  "encoding":{"x":{"datum":1.436},"y":{"datum":-272}}},
 {"data":{"values":[{}]},"mark":{"type":"rule","strokeWidth":2.5,"color":"black"},
  "encoding":{"x":{"datum":2.947},"y":{"datum":497},"y2":{"datum":197}}},
 {"data":{"values":[{}]},"mark":{"type":"point","shape":"triangle-up","filled":true,"size":45,"color":"black","opacity":1},
  "encoding":{"x":{"datum":2.947},"y":{"datum":497}}},
 {"data":{"values":[{}]},"mark":{"type":"point","shape":"triangle-down","filled":true,"size":45,"color":"black","opacity":1},
  "encoding":{"x":{"datum":2.947},"y":{"datum":197}}},
 {"data":{"values":[{}]},"mark":{"type":"rect","fill":"white","stroke":"#1e1e1e","strokeWidth":1.5,"cornerRadius":5},
  "encoding":{"x":{"datum":3.299},"x2":{"datum":4.944},"y":{"datum":-132},"y2":{"datum":-472}}},
 {"data":{"values":[{}]},"mark":{"type":"text","text":"IT duct temperature fluctuations are an order","fontSize":11,"color":"#333","align":"left","baseline":"middle"},
  "encoding":{"x":{"datum":3.355},"y":{"datum":-232}}},
 {"data":{"values":[{}]},"mark":{"type":"text","text":"of magnitude smaller than in the combustor","fontSize":11,"color":"#333","align":"left","baseline":"middle"},
  "encoding":{"x":{"datum":3.355},"y":{"datum":-382}}}
]},
{"width":569,"height":50,"layer":[
 {"data":{"values":[{}]},"mark":{"type":"rect","fill":"transparent","stroke":"#7a7a7a","strokeWidth":1},
  "encoding":{"x":{"datum":1,"type":"quantitative","scale":{"domain":[1,5],"nice":false,"zero":false},"axis":{"values":[1,1.5,2,2.5,3,3.5,4,4.5,5],"labels":false,"title":null}},
   "x2":{"datum":5},
   "y":{"datum":-25,"type":"quantitative","scale":{"domain":[-25,25],"nice":false,"zero":false},"axis":{"values":[-20,0,20],"title":"Wire Temperature, DegF","titleFontSize":8.5,"titleX":-21,"titleY":15.5,"titleBaseline":"middle","titleAngle":-90}},
   "y2":{"datum":25}}},
 {"data":{"name":"ts"},"mark":{"type":"line","strokeWidth":0.9,"clip":true},
  "encoding":{"x":{"field":"t","type":"quantitative"},"y":{"field":"b3","type":"quantitative"},
   "color":{"datum":"LF12 Small Wire, AC","type":"nominal","title":null,"scale":{"domain":["LF12 Small Wire, AC","LF12 Large Wire, AC"],"range":["#3b4fb5","#ef3b4f"]}}}},
 {"data":{"name":"ts"},"transform":[{"filter":"isValid(datum.r3)"}],"mark":{"type":"line","strokeWidth":1.3,"clip":true},
  "encoding":{"x":{"field":"t","type":"quantitative"},"y":{"field":"r3","type":"quantitative"},"color":{"datum":"LF12 Large Wire, AC","type":"nominal","title":null}}},
 {"data":{"values":[{}]},"mark":{"type":"rect","fill":"white","stroke":"#1e1e1e","strokeWidth":1.5,"cornerRadius":5},
  "encoding":{"x":{"datum":1.105},"x2":{"datum":2.033},"y":{"datum":-16.5},"y2":{"datum":-36.5}}},
 {"data":{"values":[{}]},"mark":{"type":"text","text":"Inter-Turbine Duct FWD","fontSize":11,"color":"#333","align":"center","baseline":"middle"},
  "encoding":{"x":{"datum":1.569},"y":{"datum":-26.5}}},
 {"data":{"values":[{}]},"mark":{"type":"rule","strokeWidth":2.5,"color":"black"},
  "encoding":{"x":{"datum":3.179},"y":{"datum":50.5},"y2":{"datum":23.5}}},
 {"data":{"values":[{}]},"mark":{"type":"point","shape":"triangle-up","filled":true,"size":45,"color":"black","opacity":1},
  "encoding":{"x":{"datum":3.179},"y":{"datum":50.5}}},
 {"data":{"values":[{}]},"mark":{"type":"point","shape":"triangle-down","filled":true,"size":45,"color":"black","opacity":1},
  "encoding":{"x":{"datum":3.179},"y":{"datum":23.5}}},
 {"data":{"values":[{}]},"mark":{"type":"rect","fill":"white","stroke":"#1e1e1e","strokeWidth":1.5,"cornerRadius":5},
  "encoding":{"x":{"datum":3.06},"x2":{"datum":5.049},"y":{"datum":-19.5},"y2":{"datum":-39.5}}},
 {"data":{"values":[{}]},"mark":{"type":"text","text":"Coherence between FWD & AFT IT Duct probes is high","fontSize":11,"color":"#333","align":"center","baseline":"middle"},
  "encoding":{"x":{"datum":4.055},"y":{"datum":-29.5}}}
]},
{"width":569,"height":50,"layer":[
 {"data":{"values":[{}]},"mark":{"type":"rect","fill":"transparent","stroke":"#7a7a7a","strokeWidth":1},
  "encoding":{"x":{"datum":1,"type":"quantitative","scale":{"domain":[1,5],"nice":false,"zero":false},"axis":{"values":[1,1.5,2,2.5,3,3.5,4,4.5,5],"labels":false,"title":null}},
   "x2":{"datum":5},
   "y":{"datum":-25,"type":"quantitative","scale":{"domain":[-25,25],"nice":false,"zero":false},"axis":{"values":[-20,0,20],"title":null}},
   "y2":{"datum":25}}},
 {"data":{"name":"ts"},"mark":{"type":"line","strokeWidth":0.9,"clip":true},
  "encoding":{"x":{"field":"t","type":"quantitative"},"y":{"field":"b4","type":"quantitative"},
   "color":{"datum":"LA12 Small Wire, AC","type":"nominal","title":null,"scale":{"domain":["LA12 Small Wire, AC","LA12 Large Wire, AC"],"range":["#3b4fb5","#ef3b4f"]}}}},
 {"data":{"name":"ts"},"transform":[{"filter":"isValid(datum.r4)"}],"mark":{"type":"line","strokeWidth":1.3,"clip":true},
  "encoding":{"x":{"field":"t","type":"quantitative"},"y":{"field":"r4","type":"quantitative"},"color":{"datum":"LA12 Large Wire, AC","type":"nominal","title":null}}},
 {"data":{"values":[{}]},"mark":{"type":"rect","fill":"white","stroke":"#1e1e1e","strokeWidth":1.5,"cornerRadius":5},
  "encoding":{"x":{"datum":1.091},"x2":{"datum":2.012},"y":{"datum":-14.75},"y2":{"datum":-35.75}}},
 {"data":{"values":[{}]},"mark":{"type":"text","text":"Inter-Turbine Duct AFT","fontSize":11,"color":"#333","align":"center","baseline":"middle"},
  "encoding":{"x":{"datum":1.552},"y":{"datum":-25.25}}},
 {"data":{"values":[{}]},"mark":{"type":"rule","strokeWidth":2.5,"color":"black"},
  "encoding":{"x":{"datum":2.961},"y":{"datum":54},"y2":{"datum":28}}},
 {"data":{"values":[{}]},"mark":{"type":"point","shape":"triangle-up","filled":true,"size":45,"color":"black","opacity":1},
  "encoding":{"x":{"datum":2.961},"y":{"datum":54}}},
 {"data":{"values":[{}]},"mark":{"type":"point","shape":"triangle-down","filled":true,"size":45,"color":"black","opacity":1},
  "encoding":{"x":{"datum":2.961},"y":{"datum":28}}}
]},
{"width":569,"height":50,"layer":[
 {"data":{"values":[{}]},"mark":{"type":"rect","fill":"transparent","stroke":"#7a7a7a","strokeWidth":1},
  "encoding":{"x":{"datum":1,"type":"quantitative","scale":{"domain":[1,5],"nice":false,"zero":false},"axis":{"values":[1,1.5,2,2.5,3,3.5,4,4.5,5],"labels":true,"format":"~g","title":"Time, s","titleFontSize":8,"titlePadding":1}},
   "x2":{"datum":5},
   "y":{"datum":-25,"type":"quantitative","scale":{"domain":[-25,25],"nice":false,"zero":false},"axis":{"values":[-20,0,20],"title":null}},
   "y2":{"datum":25}}},
 {"data":{"name":"ts"},"mark":{"type":"line","strokeWidth":0.9,"clip":true},
  "encoding":{"x":{"field":"t","type":"quantitative"},"y":{"field":"b5","type":"quantitative"},
   "color":{"datum":"MX12 Small Wire, AC","type":"nominal","title":null,"scale":{"domain":["MX12 Small Wire, AC","MX12 Large Wire, AC"],"range":["#3b4fb5","#ef3b4f"]}}}},
 {"data":{"name":"ts"},"transform":[{"filter":"isValid(datum.r5)"}],"mark":{"type":"line","strokeWidth":1.3,"clip":true},
  "encoding":{"x":{"field":"t","type":"quantitative"},"y":{"field":"r5","type":"quantitative"},"color":{"datum":"MX12 Large Wire, AC","type":"nominal","title":null}}},
 {"data":{"values":[{}]},"mark":{"type":"rect","fill":"white","stroke":"#1e1e1e","strokeWidth":1.5,"cornerRadius":5},
  "encoding":{"x":{"datum":1.098},"x2":{"datum":1.408},"y":{"datum":-9},"y2":{"datum":-29}}},
 {"data":{"values":[{}]},"mark":{"type":"text","text":"Mixer","fontSize":11,"color":"#333","align":"center","baseline":"middle"},
  "encoding":{"x":{"datum":1.253},"y":{"datum":-19}}},
 {"data":{"values":[{}]},"mark":{"type":"text","text":"Note: Time series are bandpass filtered between 1Hz and 1000Hz","fontSize":7.5,"fontWeight":"bold","color":"#111","align":"left","baseline":"middle"},
  "encoding":{"x":{"datum":3.243},"y":{"datum":-39}}}
]}
],
"config":{
 "view":{"stroke":null},
 "font":"Liberation Sans",
 "axis":{"grid":true,"gridDash":[1,2],"gridColor":"#8a8a8a","gridWidth":0.8,"ticks":false,"domain":false,"labelFont":"Liberation Sans","labelFontWeight":"bold","labelFontSize":7,"labelColor":"#111","labelPadding":3,"titleFont":"Liberation Sans","titleFontWeight":"bold","titleColor":"#111"},
 "legend":{"orient":"top-right","offset":1,"fillColor":"white","strokeColor":"#777","padding":2,"labelFontSize":6.5,"labelFont":"Liberation Sans","labelFontWeight":"bold","labelColor":"#222","symbolType":"stroke","symbolSize":300,"symbolStrokeWidth":1.5,"rowPadding":0,"labelOffset":3},
 "text":{"font":"Liberation Sans"}
}
}
